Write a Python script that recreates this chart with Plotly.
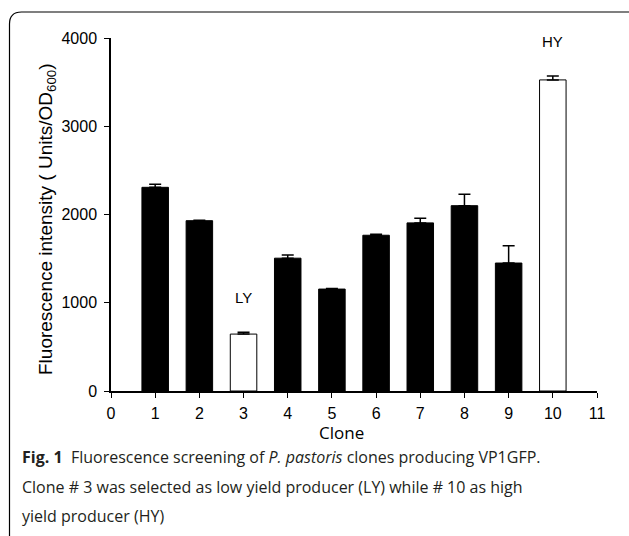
import plotly.graph_objects as go

clones = [1, 2, 3, 4, 5, 6, 7, 8, 9, 10]
values = [2308, 1930, 645, 1505, 1155, 1765, 1905, 2100, 1450, 3525]
errors = [35, 5, 20, 35, 6, 12, 52, 130, 195, 45]
fills = ["black", "black", "white", "black", "black", "black", "black", "black", "black", "white"]
x_ticks = list(range(0, 12))
y_ticks = [0, 1000, 2000, 3000, 4000]
labels = [("LY", 3, 1055), ("HY", 10, 3960)]

W, H = 629, 536
L, R, T, B = 111, 32, 38, 145
pw, ph = W - L - R, H - T - B

def px(x):
    return (x - L) / pw

def py(y):
    return (H - B - y) / ph

fig = go.Figure()
fig.add_trace(go.Bar(
    x=clones, y=values, width=0.6,
    marker=dict(color=fills, line=dict(color="black", width=1)),
    error_y=dict(type="data", array=errors, arrayminus=[0] * len(errors),
                 symmetric=False, color="black", thickness=1.5, width=6),
    showlegend=False,
))

for txt, xv, yv in labels:
    fig.add_annotation(x=xv, y=yv, text=txt, showarrow=False,
                       font=dict(family="Liberation Sans, Arial", size=15, color="black"))

axis_font = dict(family="Liberation Sans, Arial", size=16, color="black")
fig.update_xaxes(range=[0, 11], tickvals=x_ticks, ticks="outside", ticklen=5,
                 tickwidth=1.2, tickcolor="black", showline=True, linecolor="black",
                 linewidth=1.5, showgrid=False, zeroline=False, tickfont=axis_font,
                 ticklabelstandoff=2)
fig.update_yaxes(range=[0, 4000], tickvals=y_ticks, ticks="outside", ticklen=5,
                 tickwidth=1.2, tickcolor="black", showline=True, linecolor="black",
                 linewidth=1.5, showgrid=False, zeroline=False, tickfont=axis_font,
                 ticklabelstandoff=4)

# axis titles
fig.add_annotation(xref="paper", yref="paper", x=px(47), y=py(219),
                   xanchor="center", yanchor="middle",
                   text="Fluorescence intensity ( Units/OD<sub>600</sub>)",
                   textangle=-90, showarrow=False,
                   font=dict(family="Liberation Sans, Arial", size=19, color="black"))
fig.add_annotation(xref="paper", yref="paper", x=px(341), y=py(432),
                   xanchor="center", yanchor="middle",
                   text="Clone", showarrow=False,
                   font=dict(family="Open Sans", size=17, color="black"))

# caption
cap_lines = [
    "<b>Fig. 1</b>  Fluorescence screening of <i>P. pastoris</i> clones producing VP1GFP.",
    "Clone # 3 was selected as low yield producer (LY) while # 10 as high",
    "yield producer (HY)",
]
for i, line in enumerate(cap_lines):
    fig.add_annotation(xref="paper", yref="paper", x=px(20), y=py(457 + 29.5 * i),
                       xanchor="left", yanchor="middle", text=line, showarrow=False,
                       font=dict(family="Open Sans", size=16, color="#231f20"))

# rounded border
x0, y0, x1, y1, r = 9.5, 12, 650, 560, 12
path = (f"M {px(x0)},{py(y0 + r)} "
        f"Q {px(x0)},{py(y0)} {px(x0 + r)},{py(y0)} "
        f"L {px(x1)},{py(y0)} "
        f"M {px(x0)},{py(y0 + r)} L {px(x0)},{py(y1)}")
fig.add_shape(type="path", xref="paper", yref="paper", path=path,
              line=dict(color="black", width=1.2))

fig.update_layout(width=W, height=H, margin=dict(l=L, r=R, t=T, b=B),
                  plot_bgcolor="white", paper_bgcolor="white", bargap=0.4)

fig.write_html("out.html")
